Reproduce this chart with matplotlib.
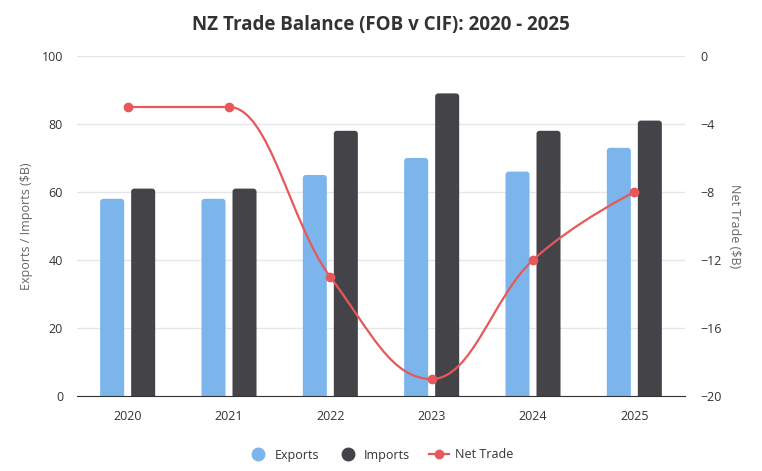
import numpy as np
import matplotlib
matplotlib.use("Agg")
import matplotlib.pyplot as plt
from matplotlib.path import Path
from matplotlib.patches import PathPatch, FancyBboxPatch
from matplotlib.lines import Line2D

plt.rcParams['font.family'] = ['Open Sans', 'DejaVu Sans']

years = ['2020', '2021', '2022', '2023', '2024', '2025']
exports = [58, 58, 65, 70, 66, 73]
imports = [61, 61, 78, 89, 78, 81]
net_trade = [-3, -3, -13, -19, -12, -8]

C_EXP = '#7cb5ec'
C_IMP = '#434348'
C_NET = '#e8575a'


def spline_path(xs, ys, smoothing=1.5):
    # highcharts-style spline as cubic bezier segments
    n = len(xs)
    denom = smoothing + 1
    lc = [(x, y) for x, y in zip(xs, ys)]
    rc = [(x, y) for x, y in zip(xs, ys)]
    for i in range(1, n - 1):
        px, py = xs[i], ys[i]
        lx, ly = xs[i - 1], ys[i - 1]
        nx, ny = xs[i + 1], ys[i + 1]
        lcx = (smoothing * px + lx) / denom
        lcy = (smoothing * py + ly) / denom
        rcx = (smoothing * px + nx) / denom
        rcy = (smoothing * py + ny) / denom
        corr = (rcy - lcy) * (rcx - px) / (rcx - lcx) + py - rcy
        lcy += corr
        rcy += corr
        if lcy > ly and lcy > py:
            lcy = max(ly, py)
            rcy = 2 * py - lcy
        elif lcy < ly and lcy < py:
            lcy = min(ly, py)
            rcy = 2 * py - lcy
        if rcy > ny and rcy > py:
            rcy = max(ny, py)
            lcy = 2 * py - rcy
        elif rcy < ny and rcy < py:
            rcy = min(ny, py)
            lcy = 2 * py - rcy
        lc[i] = (lcx, lcy)
        rc[i] = (rcx, rcy)
    verts = [(xs[0], ys[0])]
    codes = [Path.MOVETO]
    for i in range(1, n):
        verts += [rc[i - 1], lc[i], (xs[i], ys[i])]
        codes += [Path.CURVE4] * 3
    return Path(verts, codes)


def rounded_bars(ax, xs, heights, width, color):
    for xc, h in zip(xs, heights):
        # start below 0 so only the top corners show rounded
        box = FancyBboxPatch((xc - width / 2, -3), width, h + 3,
                             boxstyle='round,pad=0,rounding_size=0.03',
                             mutation_aspect=29.8, facecolor=color,
                             edgecolor='none', zorder=2, clip_on=True)
        ax.add_patch(box)


fig = plt.figure(figsize=(7.62, 4.71), dpi=100)
ax = fig.add_axes([77 / 762, 1 - 396 / 471, 608 / 762, 340 / 471])
ax2 = ax.twinx()

x = np.arange(len(years))
w = 0.237
off = 0.153
rounded_bars(ax, x - off, exports, w, C_EXP)
rounded_bars(ax, x + off, imports, w, C_IMP)

ax.set_xlim(-0.5, len(years) - 0.5)
ax.set_ylim(0, 100)
ax.set_yticks([0, 20, 40, 60, 80, 100])
ax.set_xticks(x)
ax.set_xticklabels(years)
ax.grid(axis='y', color='#e6e6e6', linewidth=1, zorder=0)
ax.set_axisbelow(True)
for s in ['top', 'right', 'left']:
    ax.spines[s].set_visible(False)
ax.spines['bottom'].set_color('#333333')
ax.spines['bottom'].set_zorder(5)
ax.tick_params(axis='x', length=0, pad=10, labelsize=9, labelcolor='#333333')
ax.tick_params(axis='y', length=0, pad=10, labelsize=9, labelcolor='#333333')
ax.set_ylabel('Exports / Imports ($B)', color='#666666', fontsize=9, labelpad=6)

ax2.set_ylim(-20, 0)
ax2.set_yticks([-20, -16, -12, -8, -4, 0])
for s in ax2.spines.values():
    s.set_visible(False)
ax2.tick_params(axis='y', length=0, pad=11, labelsize=9, labelcolor='#333333')
ax2.set_ylabel('Net Trade ($B)', color='#666666', fontsize=9, rotation=270, labelpad=14)

path = spline_path(list(x.astype(float)), [float(v) for v in net_trade])
ax2.add_patch(PathPatch(path, facecolor='none', edgecolor=C_NET, linewidth=1.6, zorder=3))
ax2.plot(x, net_trade, 'o', color=C_NET, markersize=6, zorder=4)

fig.suptitle('NZ Trade Balance (FOB v CIF): 2020 - 2025', x=0.5, y=0.968,
             fontsize=13.5, fontweight='bold', color='#333333')

handles = [
    Line2D([], [], marker='o', linestyle='none', color=C_EXP, markersize=9),
    Line2D([], [], marker='o', linestyle='none', color=C_IMP, markersize=9),
    Line2D([], [], marker='o', linestyle='-', color=C_NET, markersize=6, linewidth=1.6),
]
fig.legend(handles, ['Exports', 'Imports', 'Net Trade'], loc='center',
           bbox_to_anchor=(0.5, 1 - 455 / 471), ncol=3, frameon=False,
           fontsize=9, handlelength=1.6, columnspacing=1.5, handletextpad=0.5,
           labelcolor='#333333')

fig.savefig('out.png', dpi=100)
